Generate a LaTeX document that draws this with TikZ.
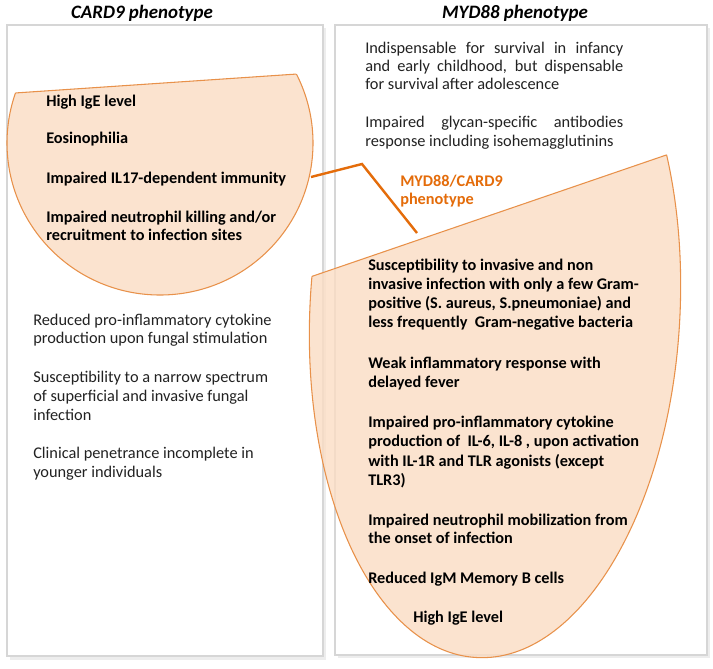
\documentclass[tikz,border=0pt]{standalone}
\usepackage{fontspec}
\setmainfont{Carlito}
\definecolor{peach}{HTML}{FBDDC4}
\definecolor{shapeline}{HTML}{E8914A}
\definecolor{conn}{HTML}{E46C0A}
\definecolor{boxline}{HTML}{D6D6D6}
\definecolor{txt}{HTML}{222222}
\begin{document}
\begin{tikzpicture}[x=0.75pt,y=-0.75pt,
  reg/.style={anchor=base west, inner sep=0pt, font=\fontsize{12.25}{14}\selectfont, text=txt},
  bld/.style={anchor=base west, inner sep=0pt, font=\fontsize{12.2}{14}\selectfont\bfseries, text=black},
  ttl/.style={anchor=base, inner sep=0pt, font=\fontsize{14.2}{17}\selectfont\bfseries\itshape, text=black},
  lbl/.style={bld, text=conn},
  panel/.style={draw=boxline, line width=1.3pt},
  lens/.style={fill=peach, fill opacity=0.8, draw=shapeline, line width=0.8pt},
  link/.style={draw=conn, line width=1.8pt},
]
\useasboundingbox (0,0) rectangle (713,668);
% panels with shadow
\fill[black!7] (10,28) rectangle (326,660);
\fill[black!7] (338,28) rectangle (710,658);
\filldraw[fill=white, panel] (7,25) rectangle (323,656);
\filldraw[fill=white, panel] (335,25) rectangle (707,655);
% titles
\node[ttl] (t1) at (142,18) {CARD9 phenotype};
\node[ttl] (t2) at (515,18) {MYD88 phenotype};
% left lens
\begin{scope}
  \clip (0,94.0) -- (330,71.8) -- (330,330) -- (0,330) -- cycle;
  \path[lens] (160,143) ellipse [x radius=153, y radius=152];
\end{scope}
\begin{scope}
  \clip (160,143) ellipse [x radius=153, y radius=152];
  \draw[draw=shapeline, line width=0.8pt] (0,94.0) -- (330,71.8);
\end{scope}
% right lens
\begin{scope}
  \clip (290,283.9) -- (720,136.6) -- (720,680) -- (290,680) -- cycle;
  \path[lens, shift={(495,310)}, rotate=-3] (0,0) ellipse [x radius=185, y radius=348];
\end{scope}
\begin{scope}
  \clip[shift={(495,310)}, rotate=-3] (0,0) ellipse [x radius=185, y radius=348];
  \draw[draw=shapeline, line width=0.8pt] (290,283.9) -- (720,136.6);
\end{scope}
% connector
\coordinate (k1) at (311,177);
\coordinate (k2) at (362,164);
\coordinate (k3) at (417,233);
\draw[link] (k1) -- (k2) -- (k3);
\node[lbl] (m1) at (400,186) {MYD88/CARD9};
\node[lbl] (m2) at (400,204) {phenotype};
% left lens text
\node[bld] (a1) at (46,106) {High IgE level};
\node[bld] (a2) at (46,143) {Eosinophilia};
\node[bld] (a3) at (46,183) {Impaired IL17-dependent immunity};
\node[bld] (a4) at (46,222) {Impaired neutrophil killing and/or};
\node[bld] (a5) at (46,240) {recruitment to infection sites};
% left plain text
\node[reg] (b1) at (33,325) {Reduced pro-inflammatory cytokine};
\node[reg] (b2) at (33,343) {production upon fungal stimulation};
\node[reg] (b3) at (33,382) {Susceptibility to a narrow spectrum};
\node[reg] (b4) at (33,401) {of superficial and invasive fungal};
\node[reg] (b5) at (33,420) {infection};
\node[reg] (b6) at (33,458) {Clinical penetrance incomplete in};
\node[reg] (b7) at (33,477) {younger individuals};
% right top text
\node[reg] (c1) at (365,53) {\makebox[193.5pt][s]{Indispensable for survival in infancy}};
\node[reg] (c2) at (365,71) {\makebox[193.5pt][s]{and early childhood, but dispensable}};
\node[reg] (c3) at (365,89) {for survival after adolescence};
\node[reg] (c4) at (365,127) {\makebox[193.5pt][s]{Impaired glycan-specific antibodies}};
\node[reg] (c5) at (365,146) {response including isohemagglutinins};
% right lens text
\node[bld] (d1) at (368,270) {Susceptibility to invasive and non};
\node[bld] (d2) at (368,289) {invasive infection with only a few Gram-};
\node[bld] (d3) at (368,308) {positive (S. aureus, S.pneumoniae) and};
\node[bld] (d4) at (368,327) {less frequently~ Gram-negative bacteria};
\node[bld] (d5) at (368,368) {Weak inflammatory response with};
\node[bld] (d6) at (368,387) {delayed fever};
\node[bld] (d7) at (368,427) {Impaired pro-inflammatory cytokine};
\node[bld] (d8) at (368,446) {production of~ IL-6, IL-8 , upon activation};
\node[bld] (d9) at (368,466) {with IL-1R and TLR agonists (except};
\node[bld] (d10) at (368,485) {TLR3)};
\node[bld] (d11) at (368,525) {Impaired neutrophil mobilization from};
\node[bld] (d12) at (368,543) {the onset of infection};
\node[bld] (d13) at (368,583) {Reduced IgM Memory B cells};
\node[bld] (d14) at (413,622) {High IgE level};
\end{tikzpicture}
\end{document}
